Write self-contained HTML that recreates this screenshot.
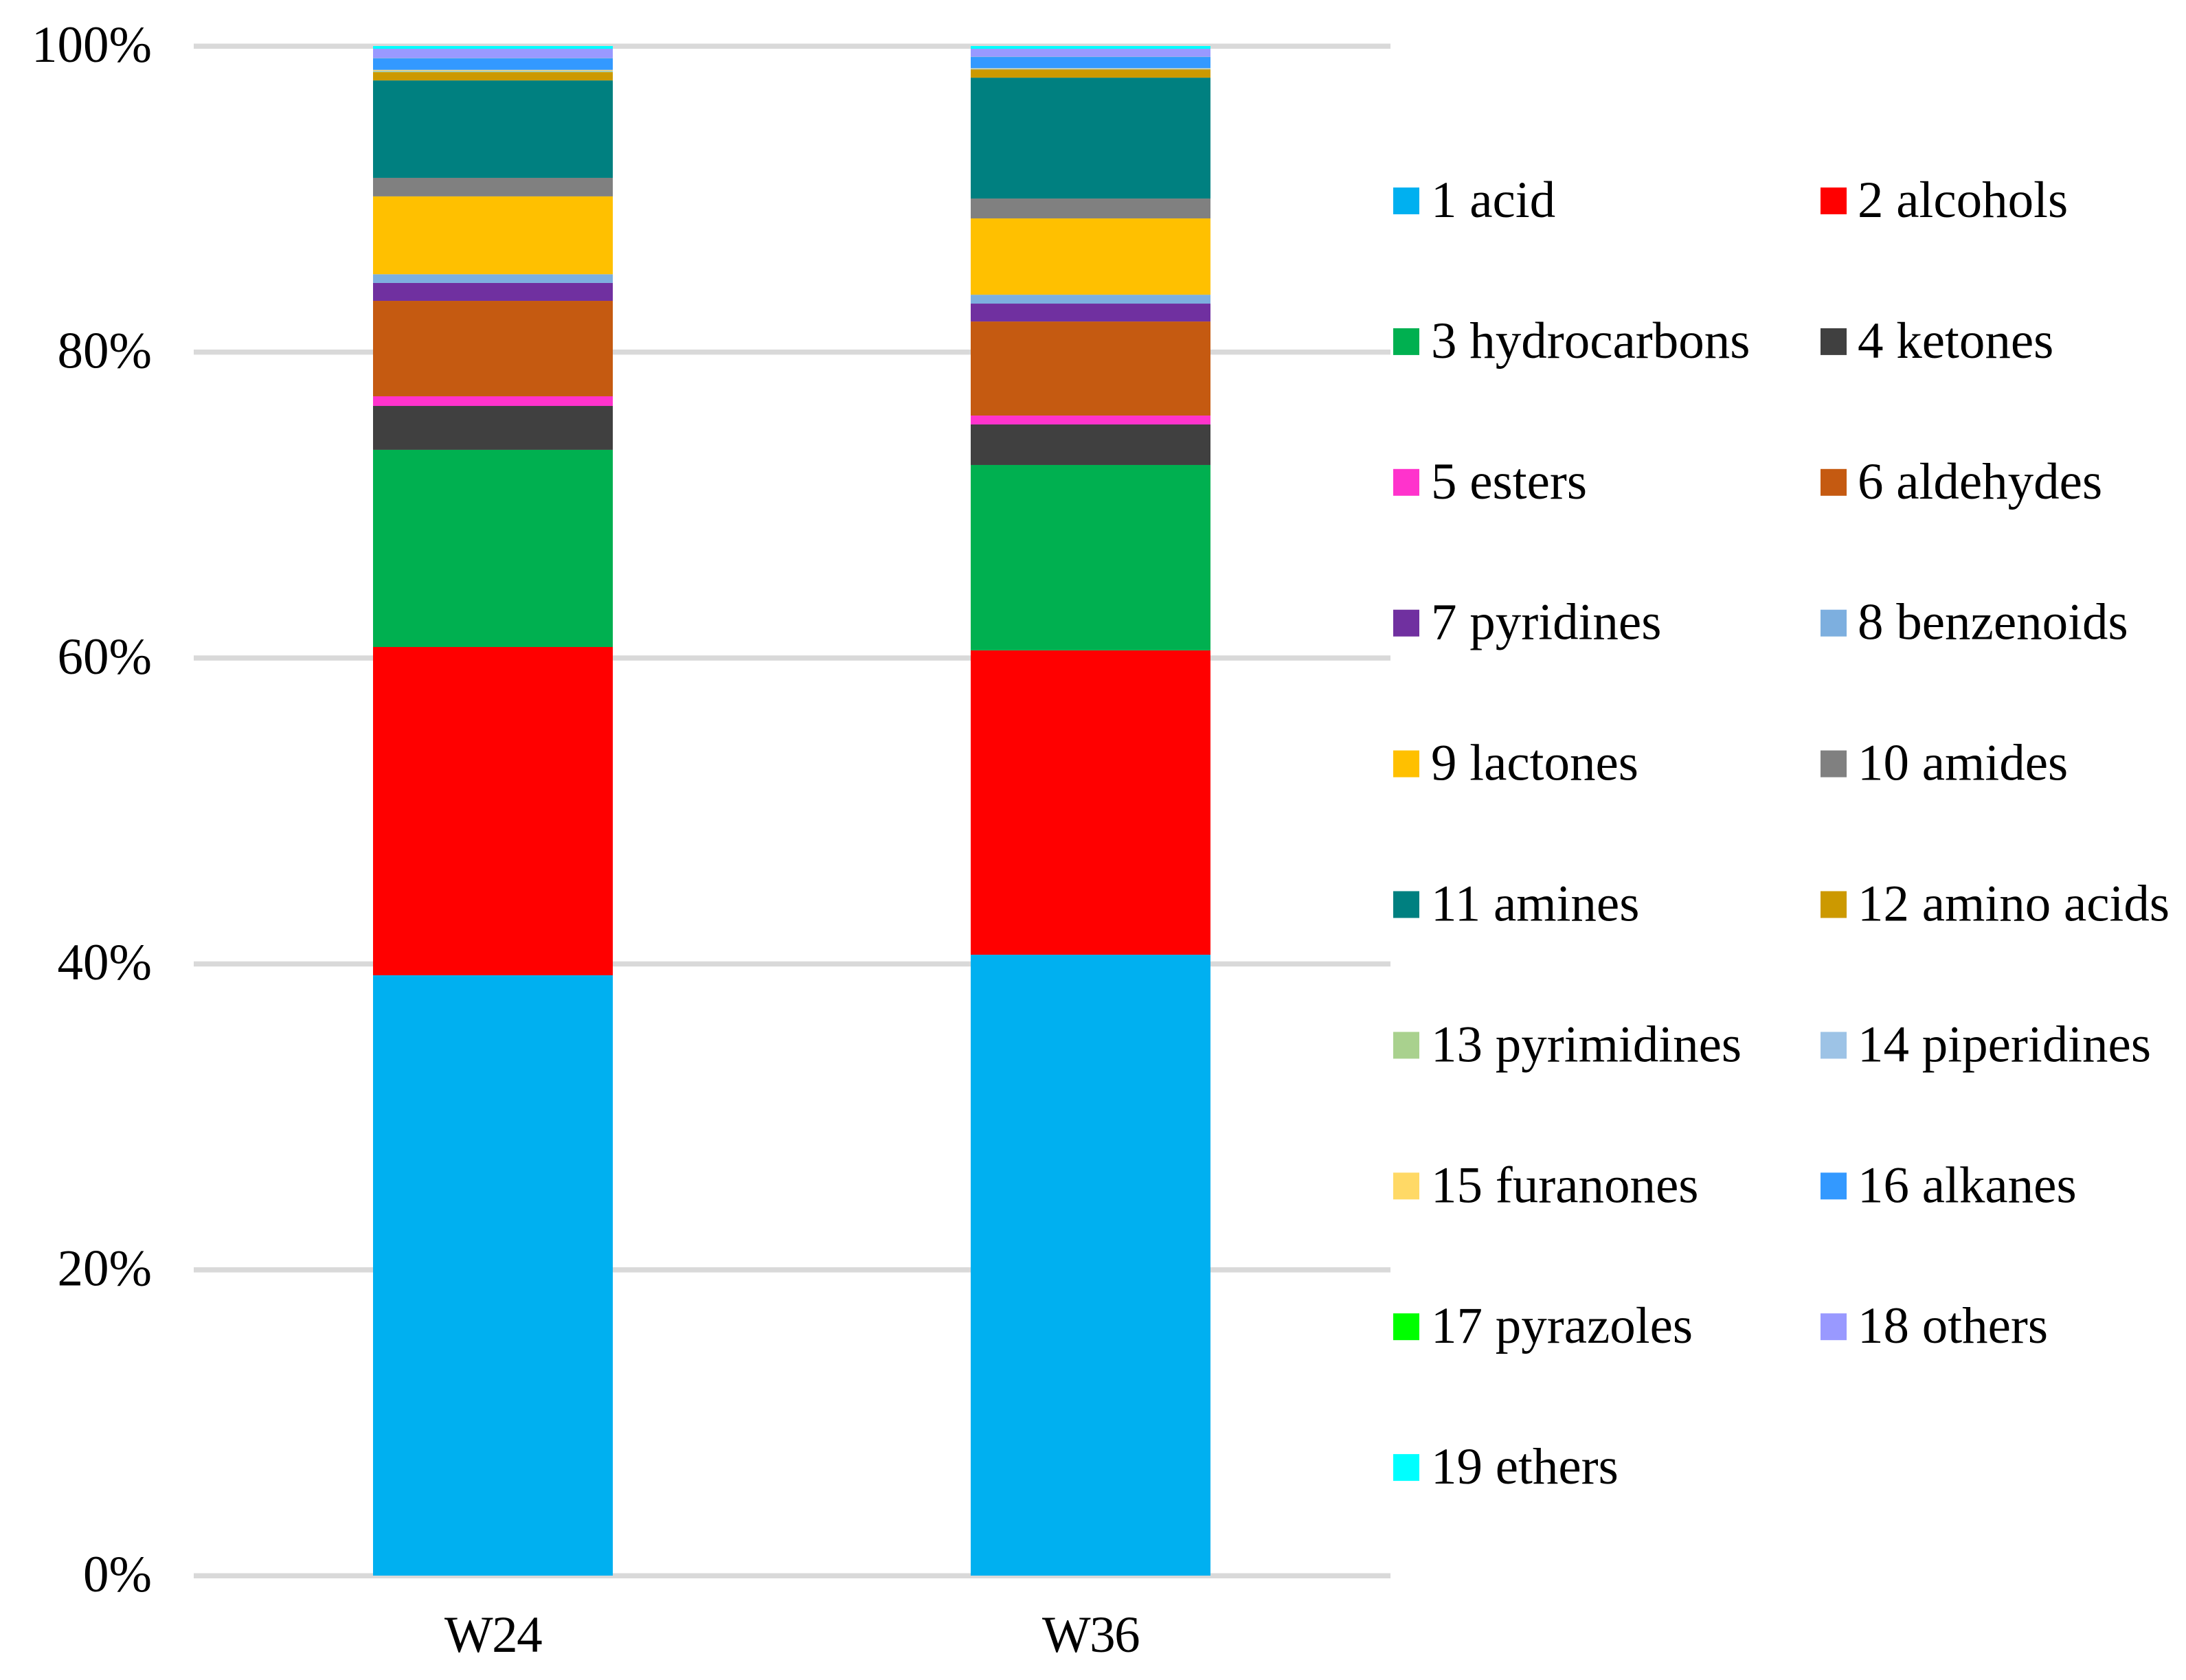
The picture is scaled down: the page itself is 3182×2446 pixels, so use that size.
<!DOCTYPE html>
<html lang="en">
<head>
<meta charset="utf-8">
<title>Stacked composition chart W24 and W36</title>
<style>
  html, body { margin: 0; padding: 0; background: #ffffff; }
  body { width: 3182px; height: 2446px; overflow: hidden; }
  svg { display: block; }
  text { font-family: "Liberation Serif", "Times New Roman", serif; font-size: 75px; fill: #000000; }
  #xaxis text { letter-spacing: -1.5px; }
</style>
</head>
<body>
<svg id="chart" xmlns="http://www.w3.org/2000/svg" width="3182" height="2446" viewBox="0 0 3182 2446">
  <rect x="0" y="0" width="3182" height="2446" fill="#ffffff"></rect>
  <g id="grid"></g>
  <g id="yaxis"></g>
  <g id="bars"></g>
  <g id="xaxis"></g>
  <g id="legend"></g>
</svg>
<script>
const categories = ["W24", "W36"];
const seriesNames = ["1 acid", "2 alcohols", "3 hydrocarbons", "4 ketones", "5 esters", "6 aldehydes", "7 pyridines", "8 benzenoids", "9 lactones", "10 amides", "11 amines", "12 amino acids", "13 pyrimidines", "14 piperidines", "15 furanones", "16 alkanes", "17 pyrazoles", "18 others", "19 ethers"];
const valuesW24 = [39.25, 21.46, 12.89, 2.87, 0.63, 6.24, 1.17, 0.57, 5.09, 1.21, 6.37, 0.54, 0.05, 0.04, 0.06, 0.75, 0.01, 0.62, 0.18];
const valuesW36 = [40.59, 19.90, 12.12, 2.65, 0.58, 6.15, 1.17, 0.58, 4.99, 1.30, 7.90, 0.54, 0.02, 0.05, 0.02, 0.72, 0.01, 0.53, 0.18];
const tickValues = [0, 20, 40, 60, 80, 100];
const tickLabels = ["0%", "20%", "40%", "60%", "80%", "100%"];
const seriesColors = ["#00b0f0", "#ff0000", "#00b050", "#404040", "#ff33cc", "#c55a11", "#7030a0", "#7dafdf", "#ffc000", "#808080", "#008080", "#cc9900", "#a9d18e", "#9dc3e6", "#ffd966", "#3399ff", "#00ff00", "#9999ff", "#00ffff"];

const SVG_NS = "http://www.w3.org/2000/svg";
const seriesByCategory = [valuesW24, valuesW36];

const plotLeft = 282;
const plotRight = 2024;
const bandLeft = 282.5;
const bandRight = 2022.5;
const plotBottom = 2294;
const plotTop = 67;
const barWidth = 349;

function yScale(v) {
  return plotBottom - (v / 100) * (plotBottom - plotTop);
}
function xBand(i) {
  const step = (bandRight - bandLeft) / categories.length;
  return bandLeft + step * (i + 0.5);
}
function slug(s) {
  return s.replace(/\s+/g, "-").replace(/%/g, "-percent").toLowerCase();
}

const gridGroup = document.getElementById("grid");
const yAxisGroup = document.getElementById("yaxis");
tickValues.forEach(function (t, i) {
  const line = document.createElementNS(SVG_NS, "rect");
  
  
  line.setAttribute("x", plotLeft);
  line.setAttribute("y", yScale(t) - 3.5);
  line.setAttribute("width", plotRight - plotLeft);
  line.setAttribute("height", 7.5);
  line.setAttribute("fill", "#d9d9d9");
  gridGroup.appendChild(line);

  const label = document.createElementNS(SVG_NS, "text");
  
  
  label.setAttribute("x", 221);
  label.setAttribute("y", yScale(t) + 23);
  label.setAttribute("text-anchor", "end");
  label.textContent = tickLabels[i];
  yAxisGroup.appendChild(label);
});

const barsGroup = document.getElementById("bars");
const xAxisGroup = document.getElementById("xaxis");
categories.forEach(function (cat, c) {
  const values = seriesByCategory[c];
  const x = xBand(c) - barWidth / 2;
  let cumulative = 0;
  values.forEach(function (v, s) {
    const seg = document.createElementNS(SVG_NS, "rect");
    
    
    seg.setAttribute("x", x);
    seg.setAttribute("y", yScale(cumulative + v));
    seg.setAttribute("width", barWidth);
    seg.setAttribute("height", yScale(cumulative) - yScale(cumulative + v));
    seg.setAttribute("fill", seriesColors[s]);
    barsGroup.appendChild(seg);
    cumulative += v;
  });

  const label = document.createElementNS(SVG_NS, "text");
  
  
  label.setAttribute("x", xBand(c));
  label.setAttribute("y", 2405);
  label.setAttribute("text-anchor", "middle");
  label.textContent = cat;
  xAxisGroup.appendChild(label);
});

const legendGroup = document.getElementById("legend");
const legendSwatchX = [2028, 2650];
const legendTextX = [2083, 2704];
const legendTop = 273;
const legendPitch = 204.9;
seriesNames.forEach(function (name, i) {
  const col = i % 2;
  const row = Math.floor(i / 2);
  const top = legendTop + row * legendPitch;

  const entry = document.createElementNS(SVG_NS, "g");
  
  

  const swatch = document.createElementNS(SVG_NS, "rect");
  
  
  swatch.setAttribute("x", legendSwatchX[col]);
  swatch.setAttribute("y", top);
  swatch.setAttribute("width", 38);
  swatch.setAttribute("height", 39);
  swatch.setAttribute("fill", seriesColors[i]);
  entry.appendChild(swatch);

  const label = document.createElementNS(SVG_NS, "text");
  
  
  label.setAttribute("x", legendTextX[col]);
  label.setAttribute("y", top + 43);
  label.textContent = name;
  entry.appendChild(label);

  legendGroup.appendChild(entry);
});
</script>
</body>
</html>
